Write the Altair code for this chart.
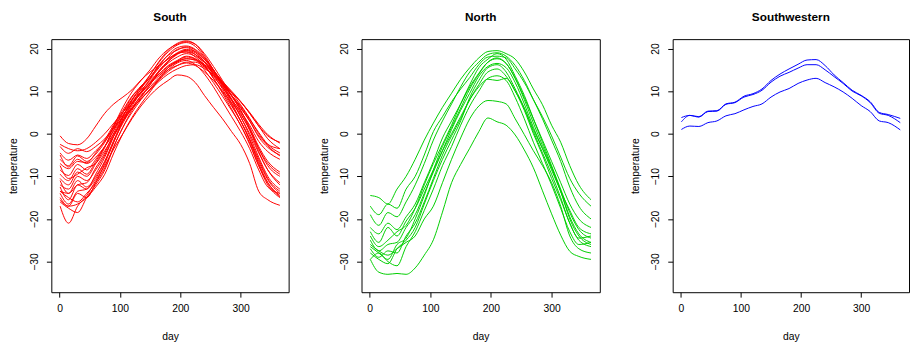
import altair as alt
import pandas as pd

DAYS = [1, 15, 30, 45, 60, 75, 90, 105, 120, 135, 150, 165, 180, 195, 210, 225, 240, 255, 270, 285, 300, 315, 330, 345, 365]

SOUTH = {
    "S01": [-0.5, -2.3, -2.6, -1.2, 1.8, 4.8, 7.0, 8.6, 10.3, 12.6, 14.5, 16.0, 17.5, 19.0, 19.8, 19.3, 17.5, 15.0, 12.0, 9.0, 6.0, 3.0, -0.5, -2.5, -3.5],
    "S02": [-3.0, -4.6, -3.5, -4.2, -3.0, -1.2, 1.3, 3.8, 6.0, 8.2, 10.2, 12.3, 14.0, 15.2, 16.0, 16.2, 15.3, 13.8, 11.8, 9.6, 7.5, 5.0, 2.2, -0.2, -2.2],
    "S03": [-4.5, -6.2, -5.0, -5.8, -4.0, -1.8, 1.5, 4.5, 7.0, 9.5, 11.8, 13.6, 15.5, 16.8, 17.6, 17.4, 16.2, 14.5, 12.3, 10.0, 7.6, 4.8, 1.8, -1.2, -3.5],
    "S04": [-6.0, -7.5, -5.2, -6.5, -4.8, -2.0, 1.8, 5.0, 8.0, 10.2, 12.5, 14.6, 16.6, 18.0, 18.8, 18.2, 16.8, 14.8, 12.2, 9.6, 6.8, 3.6, 0.0, -2.8, -5.2],
    "S05": [-5.0, -7.8, -6.0, -7.0, -5.5, -3.0, 0.0, 3.0, 5.8, 8.2, 10.4, 12.6, 14.6, 16.0, 16.8, 16.8, 15.6, 13.8, 11.5, 9.0, 6.5, 3.4, 0.3, -2.5, -4.5],
    "S06": [-7.0, -8.2, -6.5, -6.8, -4.5, -1.5, 2.2, 5.5, 8.8, 11.0, 13.0, 15.8, 17.6, 18.8, 19.2, 18.6, 16.9, 14.5, 11.8, 9.0, 6.2, 3.0, -0.8, -3.2, -5.0],
    "S07": [-8.5, -9.8, -7.2, -8.5, -6.0, -3.0, 0.8, 4.2, 7.2, 9.8, 12.0, 14.0, 16.0, 17.2, 18.2, 17.6, 15.8, 13.4, 10.8, 8.0, 5.2, 2.0, -1.8, -4.2, -6.0],
    "S08": [-9.5, -11.0, -8.2, -9.5, -6.5, -3.0, 1.0, 5.0, 8.6, 11.2, 13.2, 16.2, 18.4, 19.6, 20.4, 19.6, 17.5, 14.8, 11.8, 8.8, 5.5, 1.5, -3.0, -6.5, -9.0],
    "S09": [-10.5, -12.0, -9.0, -10.0, -7.0, -3.2, 1.8, 6.2, 9.8, 12.5, 15.0, 17.8, 19.8, 21.0, 21.6, 21.0, 18.8, 15.8, 12.5, 9.0, 5.5, 1.2, -3.5, -7.5, -10.0],
    "S10": [-12.0, -13.0, -10.0, -11.0, -8.5, -5.0, -0.5, 3.5, 7.0, 9.5, 12.0, 14.8, 17.0, 18.6, 19.6, 19.0, 17.0, 14.2, 11.0, 7.8, 4.0, 0.0, -4.5, -8.5, -11.5],
    "S11": [-11.0, -14.0, -12.0, -11.5, -8.0, -4.5, 0.2, 4.0, 7.8, 10.8, 13.2, 16.0, 18.5, 20.2, 20.6, 19.8, 17.8, 15.0, 11.6, 8.2, 4.8, 0.8, -4.2, -8.5, -12.0],
    "S12": [-12.5, -15.5, -12.0, -13.0, -9.5, -5.5, -0.5, 4.0, 8.0, 11.0, 13.8, 16.8, 19.2, 20.8, 21.4, 20.5, 18.0, 15.0, 11.5, 8.0, 4.0, -0.5, -5.5, -10.0, -13.0],
    "S13": [-13.5, -14.0, -11.0, -12.5, -10.0, -6.5, -1.8, 2.5, 6.0, 9.0, 11.5, 14.8, 17.0, 18.8, 19.2, 18.0, 16.0, 13.0, 9.8, 6.5, 3.0, -1.2, -6.0, -10.5, -13.5],
    "S14": [-14.0, -16.5, -13.5, -13.0, -10.5, -6.5, -1.5, 3.0, 6.5, 9.8, 12.8, 15.5, 17.8, 19.8, 20.2, 19.2, 16.8, 13.8, 10.5, 6.8, 3.0, -1.5, -6.5, -10.8, -14.0],
    "S15": [-13.5, -15.0, -16.0, -14.0, -11.5, -8.0, -3.0, 1.5, 5.0, 8.0, 10.5, 13.0, 15.5, 17.0, 18.0, 17.5, 15.0, 12.0, 8.8, 5.5, 2.0, -2.5, -7.5, -11.5, -14.5],
    "S16": [-15.0, -17.0, -14.0, -15.0, -11.5, -7.0, -2.0, 3.0, 7.0, 10.5, 13.8, 17.0, 19.6, 21.2, 21.8, 21.0, 18.4, 15.0, 11.2, 7.2, 3.0, -1.5, -7.0, -11.5, -14.8],
    "S17": [-16.0, -17.5, -18.5, -15.0, -12.0, -8.5, -3.0, 1.5, 5.5, 8.5, 11.5, 14.5, 17.0, 18.8, 19.5, 18.6, 16.2, 13.0, 9.5, 5.8, 2.0, -2.2, -7.5, -12.0, -15.0],
    "S18": [-15.5, -17.0, -16.5, -15.0, -12.5, -9.5, -4.5, 0.0, 3.8, 7.0, 9.8, 12.8, 15.0, 16.6, 17.2, 16.2, 14.0, 11.0, 7.5, 4.0, 0.5, -3.5, -8.5, -12.5, -14.0],
    "S19": [-17.0, -21.0, -17.0, -14.5, -11.0, -7.5, -3.5, 0.0, 3.5, 6.5, 9.0, 11.0, 12.5, 13.8, 13.5, 12.0, 9.0, 6.2, 3.5, 0.5, -2.5, -7.0, -13.5, -15.5, -16.8],
    "S20": [-7.5, -10.5, -9.5, -8.0, -7.0, -4.0, -0.5, 3.0, 6.0, 8.8, 11.0, 13.2, 15.0, 16.0, 16.6, 16.0, 14.5, 12.5, 10.0, 7.2, 4.5, 1.0, -3.5, -7.0, -9.5],
    "S21": [-2.5, -3.5, -4.0, -3.5, -2.0, 0.0, 2.5, 5.0, 7.5, 9.8, 12.0, 14.0, 15.8, 17.0, 17.6, 17.2, 16.0, 14.2, 12.0, 9.8, 7.5, 4.8, 1.8, -0.5, -2.0],
}

NORTH = {
    "N01": [-29.5, -32.5, -33.0, -32.8, -33.0, -31.5, -28.5, -24.9, -18.4, -11.5, -7.2, -3.4, 0.5, 3.7, 2.8, 2.0, -0.3, -3.8, -8.0, -13.4, -18.8, -23.8, -27.6, -28.8, -29.5],
    "N02": [-26.0, -27.5, -28.5, -27.0, -25.5, -24.0, -20.0, -17.0, -11.5, -6.0, -1.0, 3.5, 6.5, 7.8, 7.6, 7.0, 3.5, -0.2, -4.0, -7.5, -11.5, -17.0, -24.0, -27.0, -28.0],
    "N03": [-14.5, -15.0, -16.5, -13.0, -10.0, -6.0, -1.5, 2.5, 6.2, 9.5, 12.8, 15.5, 17.8, 19.3, 19.5, 18.8, 17.5, 14.5, 10.5, 6.8, 2.0, -2.0, -7.5, -12.0, -15.5],
    "N04": [-17.0, -19.0, -16.5, -17.5, -13.0, -10.0, -5.0, 0.5, 4.0, 7.5, 10.5, 13.2, 16.2, 18.0, 18.2, 17.8, 15.2, 12.0, 8.0, 4.0, -0.5, -5.5, -10.5, -14.0, -17.0],
    "N05": [-19.0, -21.5, -18.5, -19.5, -16.0, -12.0, -7.0, -1.5, 3.0, 7.0, 11.0, 14.5, 16.8, 18.6, 19.0, 18.2, 16.0, 12.5, 8.0, 3.5, -1.5, -6.5, -12.5, -17.0, -20.0],
    "N06": [-22.0, -23.5, -21.0, -22.5, -19.5, -16.5, -11.5, -6.5, -1.0, 3.0, 7.0, 11.0, 14.2, 16.8, 17.6, 16.5, 13.0, 8.5, 3.5, -1.5, -6.5, -11.5, -16.5, -20.0, -22.0],
    "N07": [-24.0, -26.5, -25.0, -23.0, -21.5, -17.5, -12.0, -7.0, -2.5, 2.0, 7.0, 11.5, 15.5, 17.5, 18.8, 17.5, 13.5, 9.0, 3.5, -2.0, -7.5, -13.0, -18.5, -22.5, -24.5],
    "N08": [-25.0, -27.5, -26.0, -25.5, -22.0, -19.0, -14.0, -9.0, -4.0, 1.0, 5.5, 9.5, 13.5, 15.8, 16.5, 15.5, 12.0, 7.0, 1.5, -3.5, -8.0, -13.5, -19.5, -23.5, -25.5],
    "N09": [-26.5, -28.0, -29.5, -26.0, -24.5, -20.0, -14.5, -8.5, -3.0, 1.5, 6.0, 10.5, 14.0, 16.8, 17.8, 16.5, 13.0, 8.0, 2.5, -2.8, -7.8, -13.5, -20.0, -24.0, -26.0],
    "N10": [-27.0, -29.0, -27.5, -28.0, -24.0, -21.0, -16.0, -10.5, -5.0, -0.5, 3.5, 8.0, 11.5, 14.5, 15.2, 13.5, 10.0, 5.5, 0.0, -5.0, -10.5, -15.5, -21.0, -25.0, -26.5],
    "N11": [-28.0, -29.5, -30.5, -27.0, -25.0, -22.0, -16.5, -11.0, -6.0, -1.5, 3.0, 8.5, 12.5, 15.5, 16.2, 14.5, 10.5, 6.0, 0.5, -4.5, -9.5, -15.0, -21.0, -24.5, -24.0],
    "N12": [-29.5, -28.0, -30.0, -31.0, -26.5, -23.0, -18.0, -13.0, -7.5, -3.0, 2.0, 6.5, 10.0, 13.0, 13.6, 12.5, 8.5, 3.5, -2.0, -7.0, -12.0, -17.5, -23.0, -26.0, -25.5],
    "N13": [-23.0, -25.5, -22.0, -24.0, -20.5, -17.5, -13.0, -8.5, -4.0, 0.0, 4.0, 8.0, 11.0, 12.8, 12.5, 13.0, 10.0, 6.0, 1.0, -3.5, -8.5, -13.5, -18.0, -22.0, -23.5],
}

SOUTHWEST = {
    "W01": [3.8, 4.3, 4.0, 5.3, 5.4, 7.0, 7.4, 8.8, 9.4, 10.5, 12.5, 14.0, 15.2, 16.3, 17.3, 17.4, 16.0, 13.8, 12.0, 10.2, 9.0, 7.5, 5.0, 4.5, 3.6],
    "W02": [2.8, 4.3, 3.9, 5.2, 5.3, 6.9, 7.3, 8.6, 9.2, 10.2, 12.1, 13.5, 14.4, 15.4, 16.2, 16.2, 15.0, 13.4, 11.8, 10.0, 8.9, 7.3, 4.8, 4.3, 2.6],
    "W03": [1.0, 1.8, 1.7, 2.6, 3.0, 4.2, 4.7, 5.6, 6.4, 7.0, 8.6, 9.8, 10.6, 11.8, 12.6, 13.0, 12.0, 11.0, 9.8, 8.3, 6.6, 5.2, 3.0, 2.6, 0.9],
}

X_TICKS = [0, 100, 200, 300]
Y_TICKS = [-30, -20, -10, 0, 10, 20]
FONT = "Liberation Sans"


def frame(curves):
    rows = []
    for name, vals in curves.items():
        for d, v in zip(DAYS, vals):
            rows.append({"station": name, "day": d, "temperature": v})
    return pd.DataFrame(rows)


def panel(curves, title, color, width):
    df = frame(curves)
    return (
        alt.Chart(df)
        .mark_line(color=color, strokeWidth=1, interpolate="monotone")
        .encode(
            x=alt.X(
                "day:Q",
                scale=alt.Scale(domain=[-13.56, 379.56], nice=False, zero=False),
                axis=alt.Axis(values=X_TICKS, title="day", labelPadding=7, titlePadding=18),
            ),
            y=alt.Y(
                "temperature:Q",
                scale=alt.Scale(domain=[-37.2, 22.2], nice=False, zero=False),
                axis=alt.Axis(
                    values=Y_TICKS,
                    title="temperature",
                    labelAngle=-90,
                    labelAlign="center",
                    labelBaseline="bottom",
                    labelPadding=7,
                    titlePadding=11,
                ),
            ),
            detail="station:N",
        )
        .properties(
            width=width,
            height=257,
            title=alt.TitleParams(title, fontSize=12, fontWeight="bold", font=FONT, anchor="middle", offset=15),
        )
    )


chart = (
    alt.hconcat(
        panel(SOUTH, "South", "#FF0000", 241),
        panel(NORTH, "North", "#00CD00", 242),
        panel(SOUTHWEST, "Southwestern", "#0000FF", 240),
        spacing=29,
    )
    .properties(padding={"left": 0, "top": 0, "right": 0, "bottom": 0}, background="white")
    .configure_view(stroke="black", strokeWidth=1)
    .configure_axis(
        domain=False,
        grid=False,
        tickColor="black",
        tickSize=5,
        labelFont=FONT,
        labelFontSize=10.5,
        labelColor="black",
        titleFont=FONT,
        titleFontSize=10.5,
        titleFontWeight="normal",
        titleColor="black",
    )
)

chart.save("out.html", embed_options={"renderer": "svg", "actions": False})
